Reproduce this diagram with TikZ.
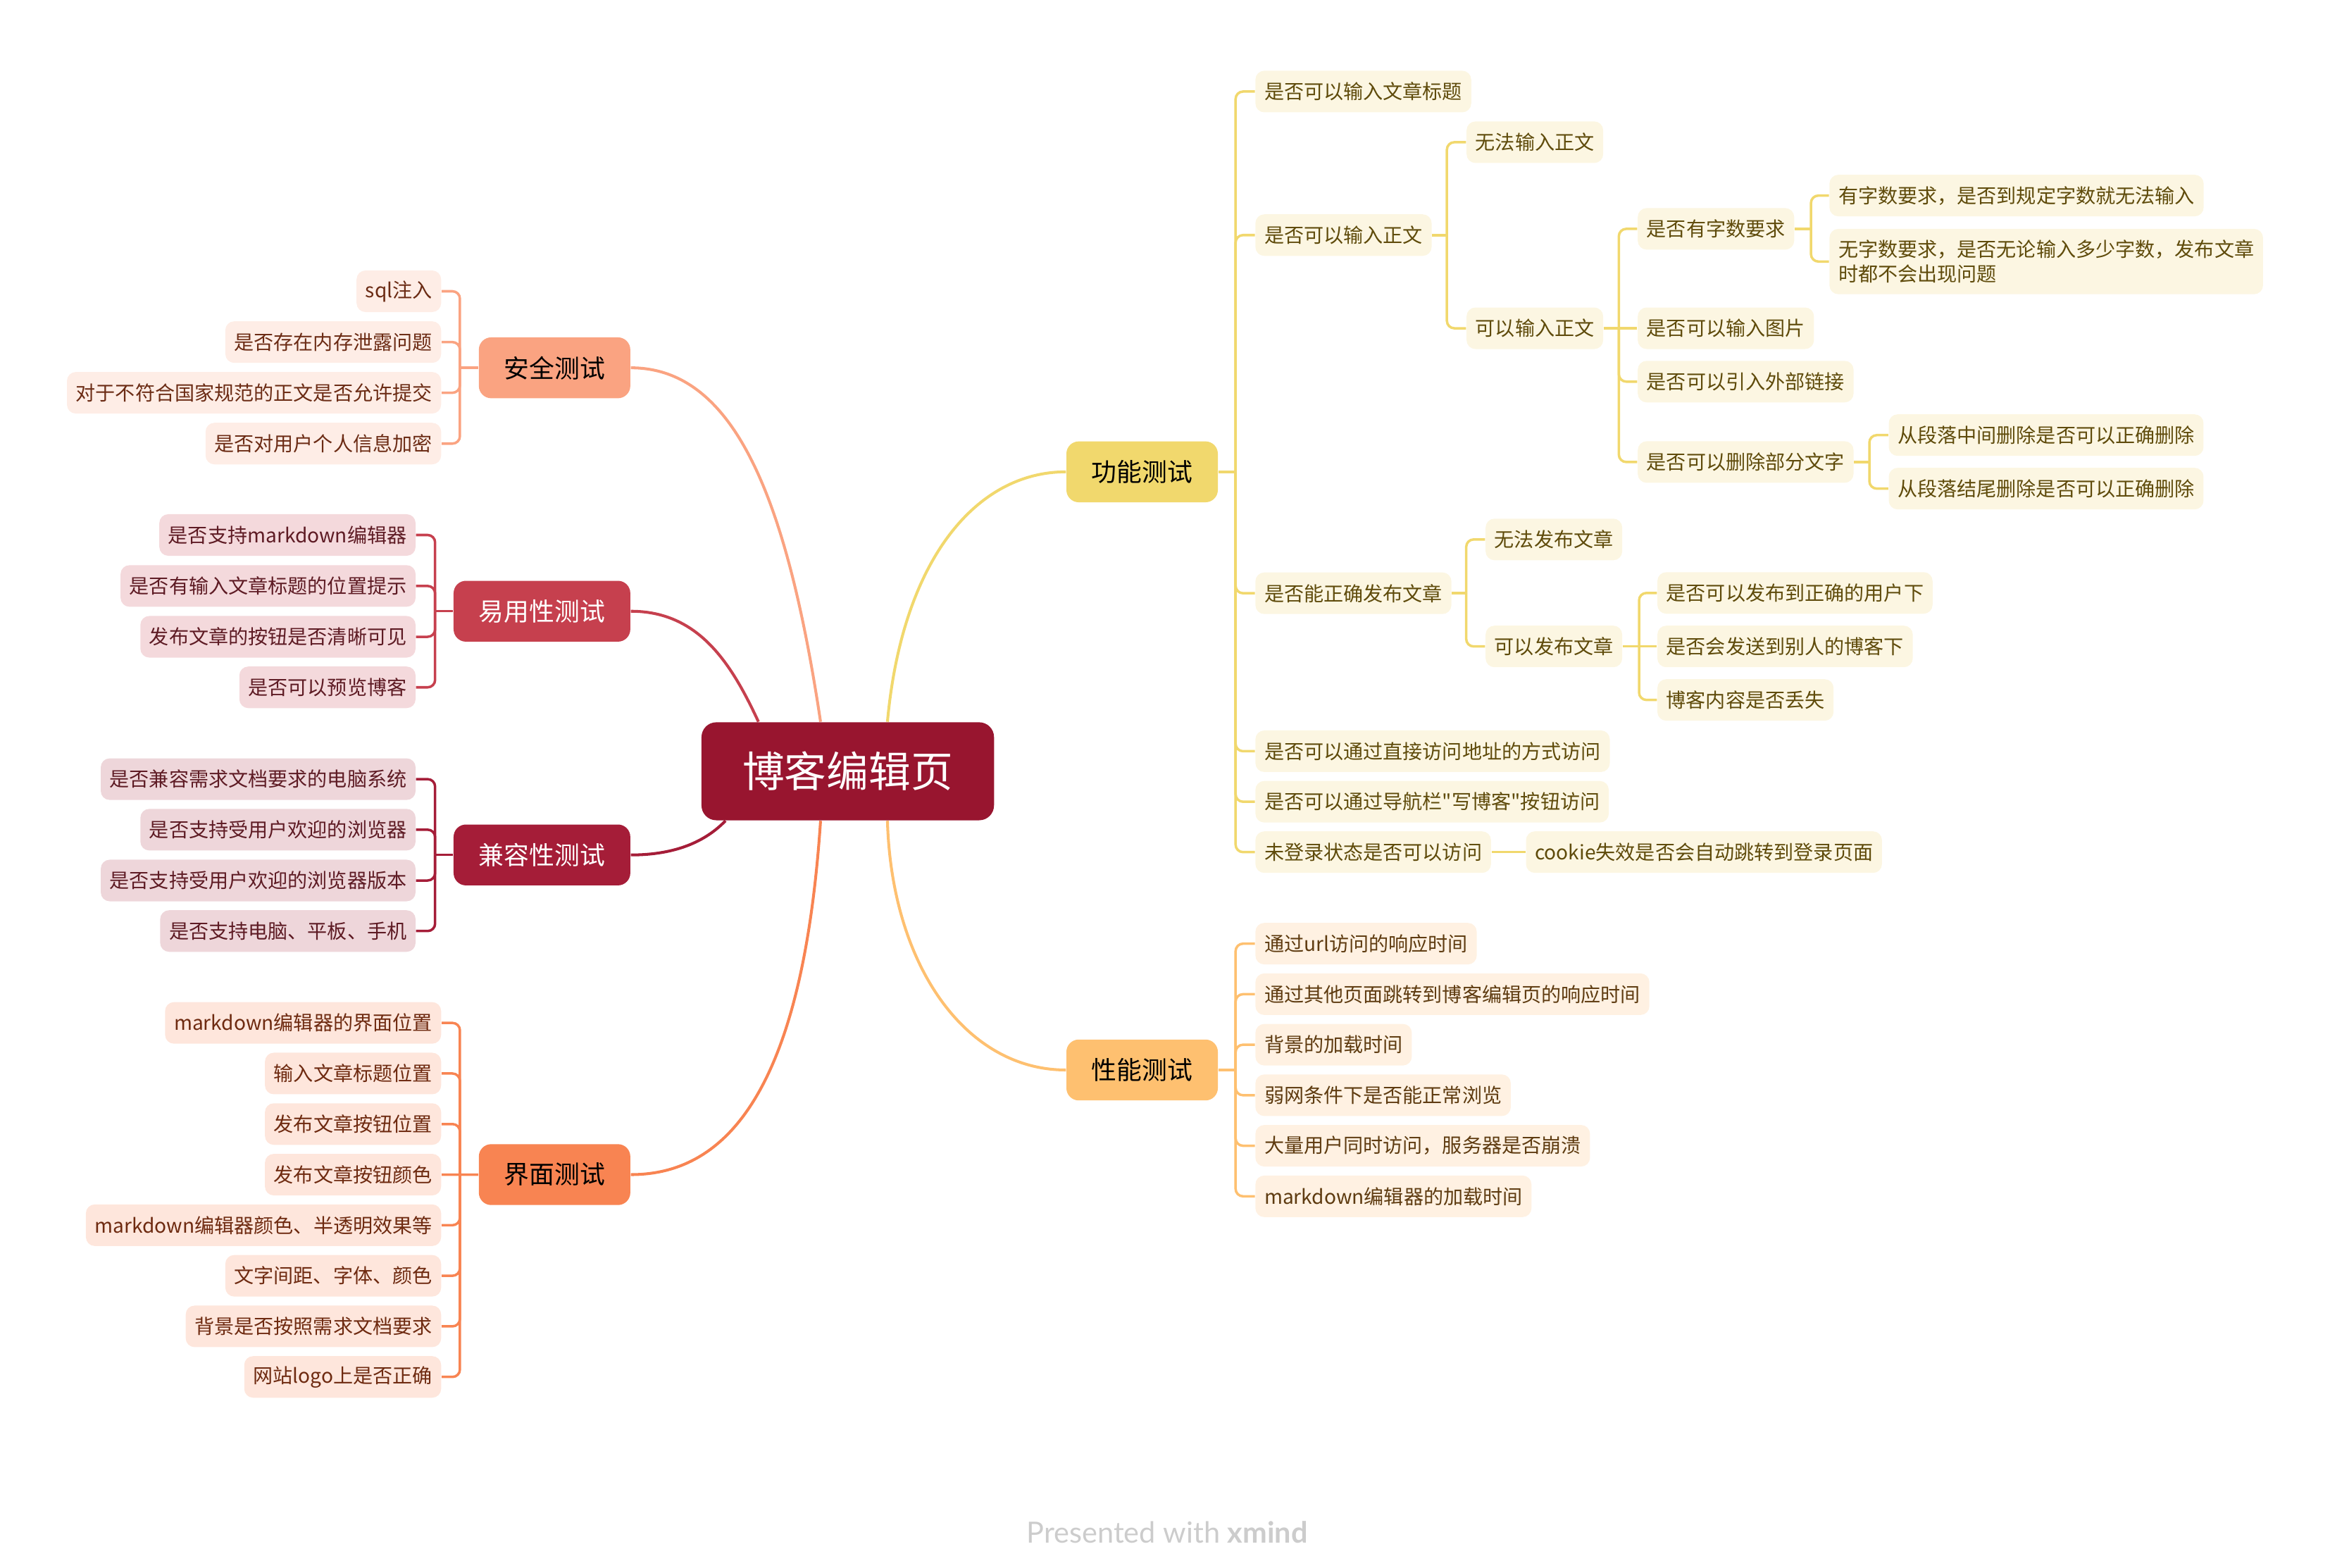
\documentclass[tikz,border=0pt]{standalone}
\usepackage{fontspec}
\setmainfont{Noto Sans CJK SC}[Ligatures=TeXOff]
\newfontfamily\markfont{Lato}
\usetikzlibrary{calc,backgrounds}

\definecolor{cRoot}{HTML}{98152F}
\definecolor{cSafe}{HTML}{FAA381}
\definecolor{cSafeL}{HTML}{FEEDE6}
\definecolor{cSafeT}{HTML}{6B2B14}
\definecolor{cEasy}{HTML}{C6404E}
\definecolor{cEasyL}{HTML}{F4D9DC}
\definecolor{cEasyT}{HTML}{5E1B24}
\definecolor{cComp}{HTML}{A51D38}
\definecolor{cCompL}{HTML}{EED6DA}
\definecolor{cCompT}{HTML}{5E1B24}
\definecolor{cFace}{HTML}{F88452}
\definecolor{cFaceL}{HTML}{FEE6DC}
\definecolor{cFaceT}{HTML}{6E2A10}
\definecolor{cFunc}{HTML}{F1D86D}
\definecolor{cFuncL}{HTML}{FCF6E2}
\definecolor{cFuncT}{HTML}{5F4B0B}
\definecolor{cPerf}{HTML}{FEC070}
\definecolor{cPerfL}{HTML}{FFF1E2}
\definecolor{cPerfT}{HTML}{5E3B10}

% fork: line style, junction, children anchors
\newcommand{\fork}[3]
{   \foreach \c in {#3} \draw[#1] (#2) |- (\c);
}

\begin{document}
\begin{tikzpicture}[x=0.021097cm, y=-0.021097cm,
  every node/.style={inner ysep=0pt},
  rootbox/.style={fill=cRoot, text=white, rounded corners=6pt, minimum height=39.6pt, inner xsep=16.6pt, font=\fontsize{17pt}{20pt}\selectfont},
  mainbox/.style={rounded corners=5pt, minimum height=24.6pt, inner xsep=10.2pt, font=\fontsize{10.2pt}{12pt}\selectfont},
  leafbox/.style={rounded corners=3.6pt, minimum height=16.8pt, inner xsep=3.6pt, font=\fontsize{8pt}{9.9pt}\selectfont},
  safeleaf/.style={leafbox, fill=cSafeL, text=cSafeT, anchor=east},
  easyleaf/.style={leafbox, fill=cEasyL, text=cEasyT, anchor=east},
  compleaf/.style={leafbox, fill=cCompL, text=cCompT, anchor=east},
  faceleaf/.style={leafbox, fill=cFaceL, text=cFaceT, anchor=east},
  funcleaf/.style={leafbox, fill=cFuncL, text=cFuncT, anchor=west},
  perfleaf/.style={leafbox, fill=cPerfL, text=cPerfT, anchor=west},
  twig/.style={draw=#1, line width=1pt, rounded corners=3pt},
  limb/.style={draw=#1, line width=1.15pt}]

\useasboundingbox (0,0) rectangle (1568,1055);

% centre and main topics
\node[rootbox] (root) at (570.5,519) {博客编辑页};
\node[mainbox, fill=cSafe, anchor=east] (safe) at (424.5,247.5) {安全测试};
\node[mainbox, fill=cEasy, text=white, anchor=east] (easy) at (424.5,411.3) {易用性测试};
\node[mainbox, fill=cComp, text=white, anchor=east] (comp) at (424.5,575.3) {兼容性测试};
\node[mainbox, fill=cFace, anchor=east] (face) at (424.5,790.4) {界面测试};
\node[mainbox, fill=cFunc, anchor=west] (func) at (717.3,317.5) {功能测试};
\node[mainbox, fill=cPerf, anchor=west] (perf) at (717.3,720) {性能测试};

% left side leaves
\foreach \n/\y/\t in {1/196/sql注入, 2/230.2/是否存在内存泄露问题, 3/264.3/对于不符合国家规范的正文是否允许提交, 4/298.5/是否对用户个人信息加密}
  \node[safeleaf] (s\n) at (297.2,\y) {\t};
\foreach \n/\y/\t in {1/360/是否支持markdown编辑器, 2/394.3/是否有输入文章标题的位置提示, 3/428.5/发布文章的按钮是否清晰可见, 4/462.5/是否可以预览博客}
  \node[easyleaf] (e\n) at (280,\y) {\t};
\foreach \n/\y/\t in {1/524.3/是否兼容需求文档要求的电脑系统, 2/558.3/是否支持受用户欢迎的浏览器, 3/592.5/是否支持受用户欢迎的浏览器版本, 4/626.5/是否支持电脑、平板、手机}
  \node[compleaf] (c\n) at (280,\y) {\t};
\foreach \n/\t in {1/markdown编辑器的界面位置, 2/输入文章标题位置, 3/发布文章按钮位置, 4/发布文章按钮颜色, 5/markdown编辑器颜色、半透明效果等, 6/文字间距、字体、颜色, 7/背景是否按照需求文档要求, 8/网站logo上是否正确}
  \node[faceleaf] (i\n) at (297.2,{654.3+34.03*\n}) {\t};

% right side: function tests
\node[funcleaf] (f1) at (844.5,61.6) {是否可以输入文章标题};
\node[funcleaf] (f2) at (844.5,158.2) {是否可以输入正文};
\node[funcleaf] (f21) at (986.6,95.7) {无法输入正文};
\node[funcleaf] (f22) at (986.6,220.9) {可以输入正文};
\node[funcleaf] (f221) at (1101.8,154) {是否有字数要求};
\node[funcleaf] (f2211) at (1230.8,131.6) {有字数要求，是否到规定字数就无法输入};
\node[funcleaf, align=left, inner ysep=4.5pt] (f2212) at (1230.8,176) {无字数要求，是否无论输入多少字数，发布文章\\时都不会出现问题};
\node[funcleaf] (f222) at (1101.8,220.9) {是否可以输入图片};
\node[funcleaf] (f223) at (1101.8,256.8) {是否可以引入外部链接};
\node[funcleaf] (f224) at (1101.8,310.9) {是否可以删除部分文字};
\node[funcleaf] (f2241) at (1270.7,292.8) {从段落中间删除是否可以正确删除};
\node[funcleaf] (f2242) at (1270.7,328.8) {从段落结尾删除是否可以正确删除};
\node[funcleaf] (f3) at (844.5,399.2) {是否能正确发布文章};
\node[funcleaf] (f31) at (999.4,363) {无法发布文章};
\node[funcleaf] (f32) at (999.4,435) {可以发布文章};
\node[funcleaf] (f321) at (1115,399) {是否可以发布到正确的用户下};
\node[funcleaf] (f322) at (1115,435) {是否会发送到别人的博客下};
\node[funcleaf] (f323) at (1115,471) {博客内容是否丢失};
\node[funcleaf] (f4) at (844.5,505.5) {是否可以通过直接访问地址的方式访问};
\node[funcleaf] (f5) at (844.5,539.5) {是否可以通过导航栏"写博客"按钮访问};
\node[funcleaf] (f6) at (844.5,573.4) {未登录状态是否可以访问};
\node[funcleaf] (f61) at (1026.6,573.4) {cookie失效是否会自动跳转到登录页面};

% right side: performance tests
\foreach \n/\t in {1/通过url访问的响应时间, 2/通过其他页面跳转到博客编辑页的响应时间, 3/背景的加载时间, 4/弱网条件下是否能正常浏览, 5/大量用户同时访问，服务器是否崩溃, 6/markdown编辑器的加载时间}
  \node[perfleaf] (p\n) at (844.5,{601+34*\n}) {\t};

\node[font=\markfont\fontsize{11.8pt}{14pt}\selectfont, text=black!20] (mark) at (785.5,1031) {Presented with \textbf{xmind}};

% junctions
\coordinate (safeJ) at (309.5,247.5);
\coordinate (easyJ) at (292.8,411.3);
\coordinate (compJ) at (292.8,575.3);
\coordinate (faceJ) at (309.5,790.4);
\coordinate (funcJ) at (831.5,317.5);
\coordinate (perfJ) at (831.5,720);
\coordinate (f2J) at (973.7,158.2);
\coordinate (f22J) at (1089.4,220.9);
\coordinate (f221J) at (1218.7,154);
\coordinate (f224J) at (1258,310.9);
\coordinate (f3J) at (986.7,399.2);
\coordinate (f32J) at (1103,435);

\begin{scope}[on background layer]
  \draw[limb=cSafe] ($(root.north)+(-18.3,0)$) .. controls (529.7,336) and (494.5,247.5) .. (safe.east);
  \draw[limb=cEasy] ($(root.north)+(-60.1,0)$) .. controls (492,446) and (470,411.3) .. (easy.east);
  \draw[limb=cComp] ($(root.south)+(-82.3,0)$) .. controls (475,566) and (455,575.3) .. (comp.east);
  \draw[limb=cFace] ($(root.south)+(-18.3,0)$) .. controls (540.2,732) and (490,790.4) .. (face.east);
  \draw[limb=cFunc] ($(root.north)+(26.7,0)$) .. controls (607.2,376) and (657.3,317.5) .. (func.west);
  \draw[limb=cPerf] ($(root.south)+(26.7,0)$) .. controls (600,650) and (650,720) .. (perf.west);
\end{scope}

\draw[twig=cSafe] (safe.west) -- (safeJ);
\fork{twig=cSafe}{safeJ}{s1.east,s2.east,s3.east,s4.east}
\draw[twig=cEasy] (easy.west) -- (easyJ);
\fork{twig=cEasy}{easyJ}{e1.east,e2.east,e3.east,e4.east}
\draw[twig=cComp] (comp.west) -- (compJ);
\fork{twig=cComp}{compJ}{c1.east,c2.east,c3.east,c4.east}
\draw[twig=cFace] (face.west) -- (faceJ) -- (i4.east);
\fork{twig=cFace}{faceJ}{i1.east,i2.east,i3.east,i5.east,i6.east,i7.east,i8.east}

\draw[twig=cFunc] (func.east) -- (funcJ);
\fork{twig=cFunc}{funcJ}{f1.west,f2.west,f3.west,f4.west,f5.west,f6.west}
\draw[twig=cFunc] (f2.east) -- (f2J);
\fork{twig=cFunc}{f2J}{f21.west,f22.west}
\draw[twig=cFunc] (f22.east) -- (f22J) -- (f222.west);
\fork{twig=cFunc}{f22J}{f221.west,f223.west,f224.west}
\draw[twig=cFunc] (f221.east) -- (f221J);
\fork{twig=cFunc}{f221J}{f2211.west,f2212.west}
\draw[twig=cFunc] (f224.east) -- (f224J);
\fork{twig=cFunc}{f224J}{f2241.west,f2242.west}
\draw[twig=cFunc] (f3.east) -- (f3J);
\fork{twig=cFunc}{f3J}{f31.west,f32.west}
\draw[twig=cFunc] (f32.east) -- (f32J) -- (f322.west);
\fork{twig=cFunc}{f32J}{f321.west,f323.west}
\draw[twig=cFunc] (f6.east) -- (f61.west);

\draw[twig=cPerf] (perf.east) -- (perfJ);
\fork{twig=cPerf}{perfJ}{p1.west,p2.west,p3.west,p4.west,p5.west,p6.west}

\end{tikzpicture}
\end{document}
